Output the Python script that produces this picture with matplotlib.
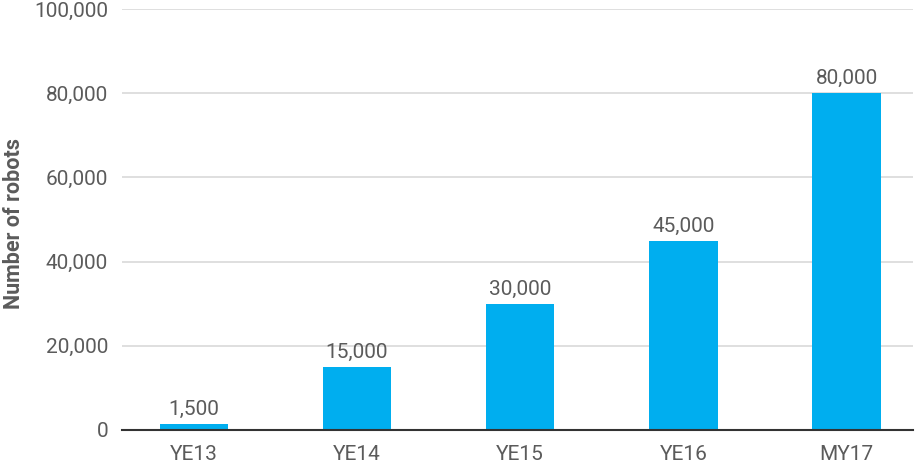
import matplotlib
matplotlib.use("Agg")
import matplotlib.pyplot as plt
from matplotlib.ticker import FuncFormatter

plt.rcParams['font.family'] = ['Roboto', 'DejaVu Sans']

periods = ["YE13", "YE14", "YE15", "YE16", "MY17"]
robots = [1500, 15000, 30000, 45000, 80000]
yticks = [0, 20000, 40000, 60000, 80000, 100000]

text_col = "#5b5b5b"
bar_col = "#00aeef"

fig = plt.figure(figsize=(9.15, 4.65), dpi=100)
ax = fig.add_axes([0.1333, 0.0753, 0.865, 0.9053])

x = range(len(periods))
bars = ax.bar(x, robots, width=0.42, color=bar_col, zorder=3)

for b, v in zip(bars, robots):
    ax.text(b.get_x() + b.get_width() / 2, v + 1200, f"{v:,}",
            ha="center", va="bottom", fontsize=15, color=text_col)

ax.set_xlim(-0.44, 4.41)
ax.set_ylim(0, 100000)
ax.set_yticks(yticks)
ax.yaxis.set_major_formatter(FuncFormatter(lambda v, p: f"{int(v):,}"))
ax.set_xticks(list(x))
ax.set_xticklabels(periods)

ax.grid(axis="y", color="#d9d9d9", linewidth=1.2, zorder=0)
for s in ["top", "right", "left"]:
    ax.spines[s].set_visible(False)
ax.spines["bottom"].set_color("#333333")
ax.spines["bottom"].set_linewidth(1.5)
ax.spines["bottom"].set_zorder(4)

ax.tick_params(axis="both", length=0, labelsize=15, colors=text_col)
ax.tick_params(axis="y", pad=10)
ax.tick_params(axis="x", pad=11)

ax.set_ylabel("Number of robots", fontsize=15.5, fontweight="bold",
              color=text_col, va="center")
ax.yaxis.set_label_coords(-0.136, 0.49)

fig.savefig("out.png", dpi=100)
